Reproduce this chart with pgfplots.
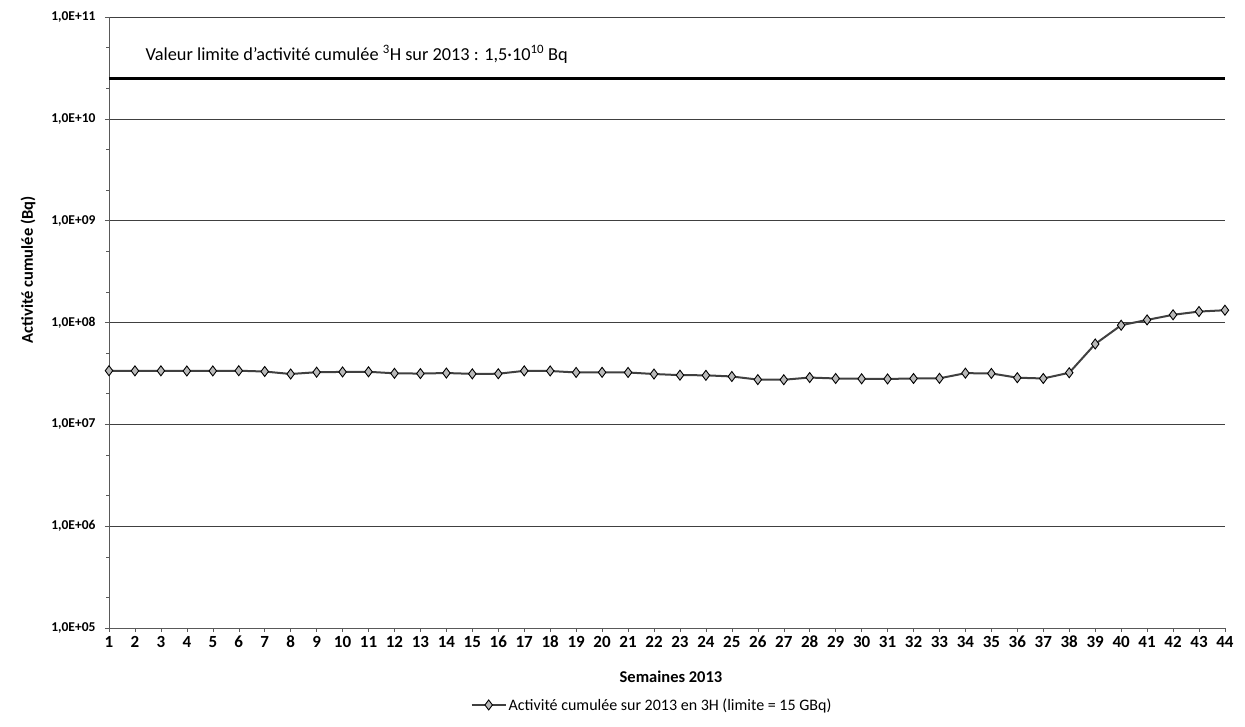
\documentclass[border=0pt]{standalone}
\usepackage{fontspec}
\setmainfont{Carlito}
\usepackage{pgfplots}
\pgfplotsset{compat=1.18}
\pgfplotstableread{
x y
1 3.36e7
2 3.35e7
3 3.35e7
4 3.34e7
5 3.34e7
6 3.36e7
7 3.3e7
8 3.12e7
9 3.25e7
10 3.27e7
11 3.28e7
12 3.17e7
13 3.15e7
14 3.19e7
15 3.13e7
16 3.14e7
17 3.35e7
18 3.34e7
19 3.23e7
20 3.24e7
21 3.23e7
22 3.12e7
23 3.04e7
24 3.03e7
25 2.95e7
26 2.75e7
27 2.74e7
28 2.88e7
29 2.82e7
30 2.8e7
31 2.79e7
32 2.82e7
33 2.83e7
34 3.18e7
35 3.16e7
36 2.87e7
37 2.82e7
38 3.21e7
39 6.15e7
40 9.4e7
41 1.06e8
42 1.19e8
43 1.28e8
44 1.32e8
}\datatable
\begin{document}
\begin{tikzpicture}
\useasboundingbox (-109pt,-98pt) rectangle (1136pt,628pt);
\begin{axis}[
  at={(0pt,0pt)}, anchor=south west,
  scale only axis, width=1116pt, height=611pt,
  xmin=1, xmax=44, ymode=log, ymin=1e5, ymax=1e11,
  axis x line=bottom, axis y line=left,
  axis line style={-, draw=gray!70!black, line width=0.6pt},
  xtick={1,...,44},
  ytick={1e5,1e6,1e7,1e8,1e9,1e10,1e11},
  yticklabels={{1,0E+05},{1,0E+06},{1,0E+07},{1,0E+08},{1,0E+09},{1,0E+10},{1,0E+11}},
  minor ytick={2e5,5e5,2e6,5e6,2e7,5e7,2e8,5e8,2e9,5e9,2e10,5e10},
  ymajorgrids, major grid style={draw=black!75, line width=0.6pt},
  tick align=outside, major tick length=4pt, minor tick length=2.5pt,
  tick style={draw=gray!70!black, line width=0.5pt},
  xticklabel style={font=\fontsize{17}{17}\selectfont\bfseries, text height=11pt, text depth=0pt, anchor=north, yshift=-1pt},
  yticklabel style={font=\fontsize{13.5}{13.5}\selectfont\bfseries, xshift=-6pt},
  /pgf/number format/assume math mode=true,
  xlabel={Semaines 2013},
  xlabel style={at={(axis description cs:0.5036,-0.080)}, anchor=center, font=\fontsize{16.5}{16.5}\selectfont\bfseries},
  ylabel={Activité cumulée (Bq)},
  ylabel style={at={(axis description cs:-0.0726,0.586)}, anchor=center, font=\fontsize{16.5}{16.5}\selectfont\bfseries},
  legend style={at={(0.4866,-0.126)}, anchor=center, draw=none, fill=none, font=\fontsize{16}{16}\selectfont},
  legend image code/.code={\draw[mark repeat=2,mark phase=2] plot coordinates {(0pt,0pt) (17pt,0pt) (34pt,0pt)};},
  clip=false,
]
\addplot[black, line width=3pt, forget plot] coordinates {(1,2.5e10) (44,2.5e10)};
\node[anchor=west, inner sep=0pt, font=\fontsize{18.3}{18.3}\selectfont] at (axis cs:2.4,4.3e10) {Valeur limite d'activité cumulée \textsuperscript{3}H sur 2013 : 1,5·10\textsuperscript{10} Bq};
\addplot[draw=black!75, line width=2pt, mark=diamond*, mark size=5pt, mark options={fill=gray!55, draw=black, line width=0.9pt}] table[x=x, y=y] {\datatable};
\addlegendentry{Activité cumulée sur 2013 en 3H (limite = 15 GBq)}
\end{axis}
\end{tikzpicture}
\end{document}
